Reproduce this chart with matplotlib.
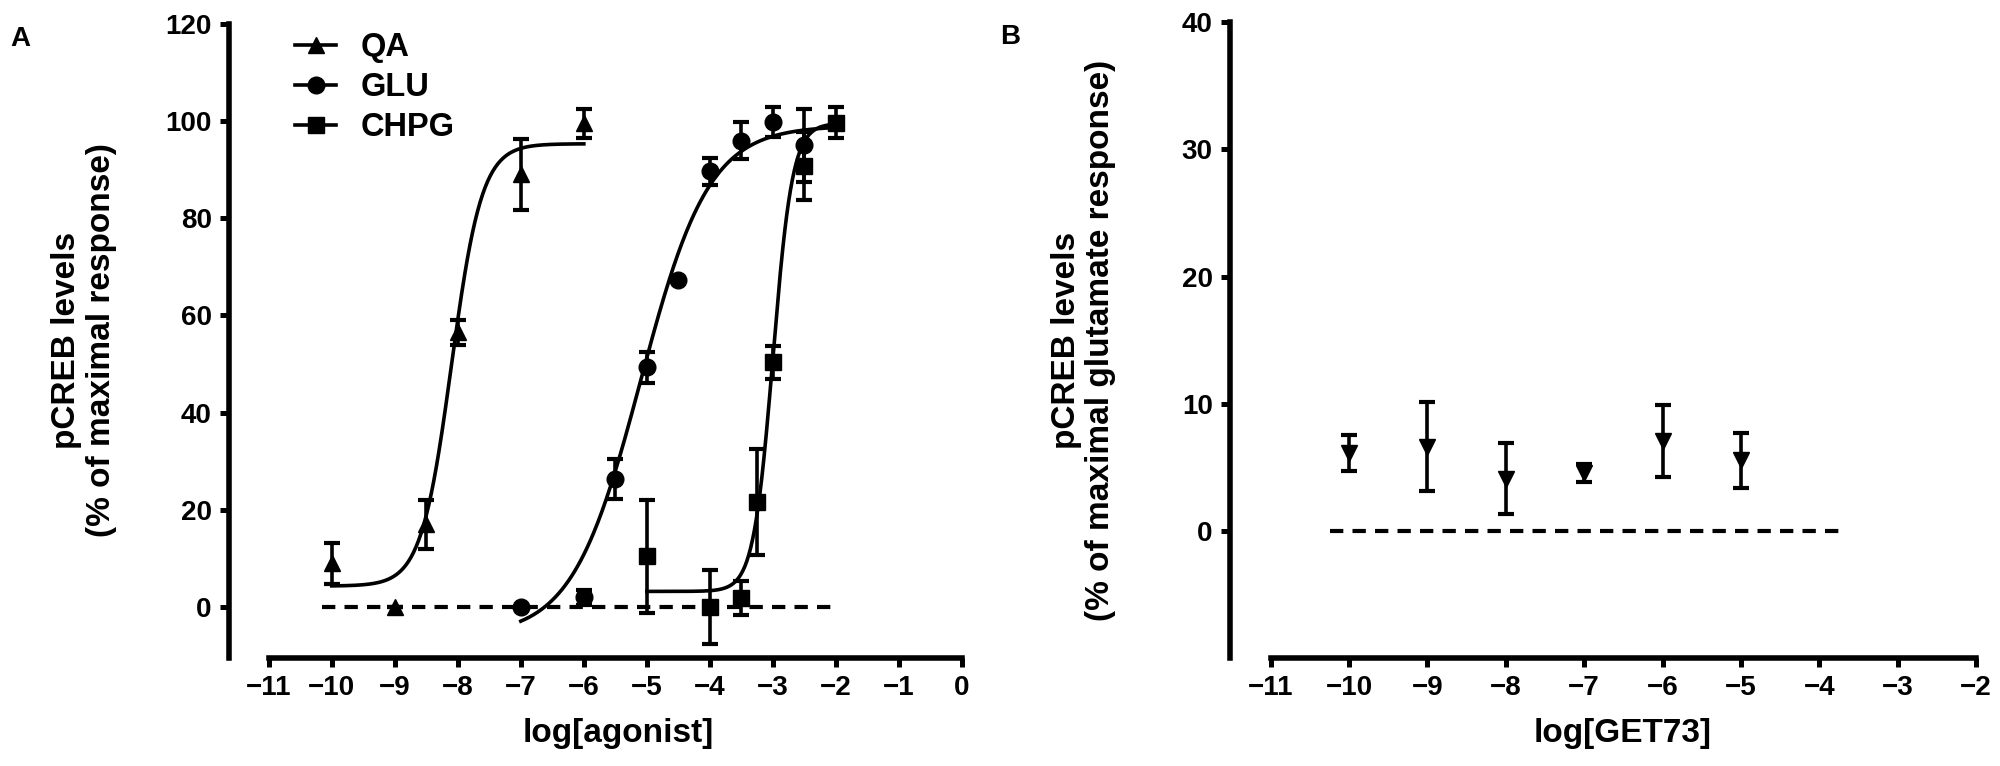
import numpy as np
import matplotlib.pyplot as plt

plt.rcParams['font.family'] = ['Liberation Sans', 'DejaVu Sans']
plt.rcParams['font.weight'] = 'bold'

# panel A data: log[agonist], % of maximal response, error
qa_x = [-10, -9, -8.5, -8, -7, -6]
qa_y = [9.0, 0.0, 17.0, 56.5, 89.0, 99.5]
qa_err = [4.2, 0.0, 5.0, 2.6, 7.3, 3.0]

glu_x = [-7, -6, -5.5, -5, -4.5, -4, -3.5, -3, -2.5]
glu_y = [0.0, 2.0, 26.3, 49.3, 67.3, 89.6, 95.9, 99.7, 95.0]
glu_err = [0.0, 1.5, 4.1, 3.2, 0.0, 2.8, 3.8, 3.1, 7.5]

chpg_x = [-5, -4, -3.5, -3.25, -3, -2.5, -2]
chpg_y = [10.4, 0.0, 1.8, 21.6, 50.3, 90.8, 99.6]
chpg_err = [11.6, 7.6, 3.5, 10.9, 3.4, 7.0, 3.2]

# fitted curves (bottom, top, logEC50, hill, x range)
qa_fit = (4.3, 95.3, -8.1, 1.8, -10, -6)
glu_fit = (-6.0, 99.0, -5.1, 0.8, -7, -2)
chpg_fit = (3.2, 99.5, -3.0, 2.8, -5, -2)

# panel B data: log[GET73]
get_x = [-10, -9, -8, -7, -6, -5]
get_y = [6.1, 6.6, 4.1, 4.55, 7.05, 5.55]
get_err = [1.4, 3.5, 2.8, 0.72, 2.85, 2.15]


def logistic(x, bottom, top, ec50, hill):
    return bottom + (top - bottom) / (1 + 10 ** ((ec50 - x) * hill))


fig = plt.figure(figsize=(20, 7.66), dpi=100)
axA = fig.add_axes([0.1145, 0.141, 0.3665, 0.828])
axB = fig.add_axes([0.615, 0.141, 0.373, 0.830])

ebar = dict(color='black', elinewidth=2.6, capsize=5.8, capthick=3, linestyle='none')

for x, y, e, m, ms, lab, fit in [(qa_x, qa_y, qa_err, '^', 11, 'QA', qa_fit),
                                 (glu_x, glu_y, glu_err, 'o', 12, 'GLU', glu_fit),
                                 (chpg_x, chpg_y, chpg_err, 's', 11, 'CHPG', chpg_fit)]:
    axA.errorbar(x, y, yerr=e, marker=m, markersize=ms, **ebar)
    xs = np.linspace(fit[4], fit[5], 300)
    axA.plot(xs, logistic(xs, *fit[:4]), color='black', lw=2.6)
    axA.plot([], [], color='black', lw=2.6, marker=m, markersize=ms, label=lab)

axA.plot([-10.16, -2.05], [0, 0], color='black', lw=3.0, dashes=(3.2, 2.2))

axB.errorbar(get_x, get_y, yerr=get_err, marker='v', markersize=11, **ebar)
axB.plot([-10.25, -3.65], [0, 0], color='black', lw=3.0, dashes=(3.2, 2.2))

axA.set_xlim(-11.63, 0.0)
axA.set_ylim(-10.5, 120)
axA.set_xticks(range(-11, 1))
axA.set_yticks(range(0, 121, 20))
axA.spines['bottom'].set_bounds(-11, 0)

axB.set_xlim(-11.52, -2.0)
axB.set_ylim(-10, 40)
axB.set_xticks(range(-11, -1))
axB.set_yticks(range(0, 41, 10))
axB.spines['bottom'].set_bounds(-11, -2)

for ax in (axA, axB):
    for s in ('top', 'right'):
        ax.spines[s].set_visible(False)
    for s in ('left', 'bottom'):
        ax.spines[s].set_linewidth(4)
    ax.tick_params(direction='out', length=6.5, width=3.6, labelsize=20, pad=6)
    for t in ax.get_xticklabels() + ax.get_yticklabels():
        t.set_fontweight('bold')
    for art in ax.get_children():
        try:
            art.set_clip_on(False)
        except Exception:
            pass

leg = axA.legend(loc='upper left', bbox_to_anchor=(0.1475, 0.958),
                 bbox_transform=fig.transFigure, frameon=False,
                 prop={'size': 23.5, 'weight': 'bold'}, handlelength=1.26,
                 handletextpad=0.75, labelspacing=0.28, borderpad=0, borderaxespad=0)

fig.text(0.042, 0.556, 'pCREB levels\n(% of maximal response)', rotation=90,
         ha='center', va='center', fontsize=24, fontweight='bold',
         multialignment='center', linespacing=1.15)
fig.text(0.5418, 0.556, 'pCREB levels\n(% of maximal glutamate response)', rotation=90,
         ha='center', va='center', fontsize=24, fontweight='bold',
         multialignment='center', linespacing=1.15)
fig.text(0.309, 0.043, 'log[agonist]', ha='center', va='center', fontsize=24, fontweight='bold')
fig.text(0.8115, 0.043, 'log[GET73]', ha='center', va='center', fontsize=24, fontweight='bold')

fig.text(0.01, 0.949, 'A', ha='center', va='center', fontsize=20, fontweight='bold')
fig.text(0.505, 0.952, 'B', ha='center', va='center', fontsize=20, fontweight='bold')

fig.savefig('out.png', dpi=100)
